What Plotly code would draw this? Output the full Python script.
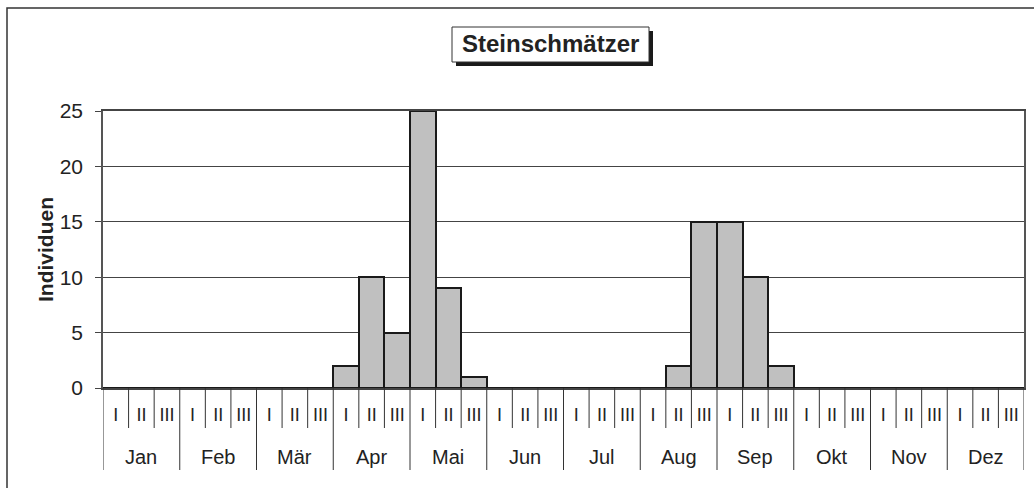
import plotly.graph_objects as go

months = ["Jan", "Feb", "Mär", "Apr", "Mai", "Jun", "Jul", "Aug", "Sep", "Okt", "Nov", "Dez"]
decades = ["I", "II", "III"]
# individuals per decade (Jan I ... Dez III)
values = [
    0, 0, 0,   # Jan
    0, 0, 0,   # Feb
    0, 0, 0,   # Mär
    2, 10, 5,  # Apr
    25, 9, 1,  # Mai
    0, 0, 0,   # Jun
    0, 0, 0,   # Jul
    0, 2, 15,  # Aug
    15, 10, 2, # Sep
    0, 0, 0,   # Okt
    0, 0, 0,   # Nov
    0, 0, 0,   # Dez
]
title_text = "Steinschmätzer"
y_title = "Individuen"

W, H = 1034, 488
L, R, T, B = 103, 10, 111, 100
pw, ph = W - L - R, H - T - B

def px(x):
    return (x - L) / pw

def py(y):
    return (H - B - y) / ph

FONT = "Liberation Sans, Arial, sans-serif"
n = len(values)
xs = list(range(n))
ticktext = [decades[i % 3] for i in range(n)]

fig = go.Figure()
fig.add_trace(go.Bar(
    x=xs, y=values,
    marker=dict(color="#c0c0c0", line=dict(color="#1a1a1a", width=2)),
    width=1.0,
    hoverinfo="y",
))

shapes = []
# decade / month separators under the axis
for k in range(n + 1):
    is_month = (k % 3 == 0)
    shapes.append(dict(
        type="line", xref="x", yref="paper",
        x0=k - 0.5, x1=k - 0.5,
        y0=0, y1=py(470) if is_month else py(428),
        line=dict(color="#333333", width=1),
    ))
# title shadow and box
shapes.append(dict(type="rect", xref="paper", yref="paper",
                   x0=px(456), x1=px(653), y0=py(66), y1=py(31),
                   fillcolor="#1a1a1a", line=dict(width=0), layer="above"))
shapes.append(dict(type="rect", xref="paper", yref="paper",
                   x0=px(452), x1=px(649), y0=py(62), y1=py(27),
                   fillcolor="white", line=dict(color="#333333", width=1), layer="above"))
# outer chart border
shapes.append(dict(type="rect", xref="paper", yref="paper",
                   x0=px(7), x1=px(1040), y0=py(495), y1=py(8),
                   fillcolor="rgba(0,0,0,0)", line=dict(color="#333333", width=1.5), layer="below"))

annotations = []
for m, name in enumerate(months):
    annotations.append(dict(
        x=3 * m + 1, y=py(457), xref="x", yref="paper",
        text=name, showarrow=False, xanchor="center", yanchor="middle",
        font=dict(family=FONT, size=20, color="#222222"),
    ))
annotations.append(dict(
    x=px(550), y=py(44), xref="paper", yref="paper",
    text="<b>" + title_text + "</b>", showarrow=False,
    xanchor="center", yanchor="middle",
    font=dict(family=FONT, size=24, color="#222222"),
))
annotations.append(dict(
    x=px(45), y=py(250), xref="paper", yref="paper",
    text="<b>" + y_title + "</b>", showarrow=False, textangle=-90,
    xanchor="center", yanchor="middle",
    font=dict(family=FONT, size=21, color="#222222"),
))

fig.update_layout(
    width=W, height=H,
    margin=dict(l=L, r=R, t=T, b=B, autoexpand=False),
    paper_bgcolor="white", plot_bgcolor="white",
    bargap=0, showlegend=False,
    shapes=shapes, annotations=annotations,
    font=dict(family=FONT, color="#222222"),
)
fig.update_xaxes(
    range=[-0.5, n - 0.5], tickmode="array", tickvals=xs, ticktext=ticktext,
    ticks="", showgrid=False, zeroline=False,
    showline=True, linecolor="#444444", linewidth=1.5, mirror=True,
    tickfont=dict(family=FONT, size=18, color="#222222"),
    ticklabelstandoff=10, fixedrange=True,
)
fig.update_yaxes(
    range=[0, 25], dtick=5, tick0=0,
    ticks="outside", ticklen=6, tickcolor="#444444",
    showgrid=True, gridcolor="#444444", gridwidth=1,
    zeroline=False,
    showline=True, linecolor="#555555", linewidth=1.5, mirror=True,
    tickfont=dict(family=FONT, size=21, color="#222222"),
    ticklabelstandoff=8,
    fixedrange=True,
)

fig.write_html(
    "out.html",
    config={"displayModeBar": False},
    post_script="document.body.style.margin='0px';document.body.style.overflow='hidden';",
)
